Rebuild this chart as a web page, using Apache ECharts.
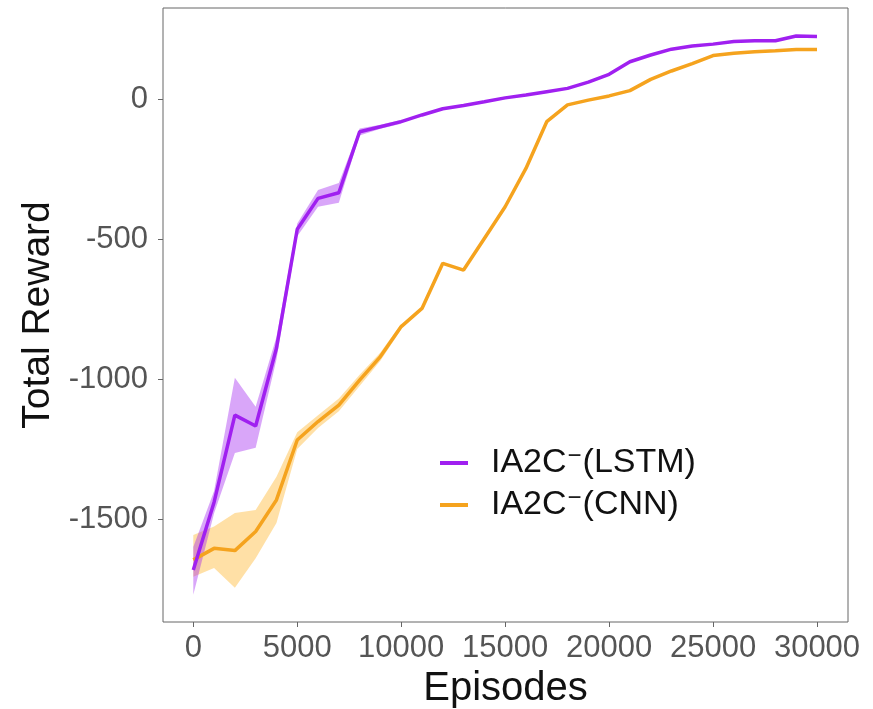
<!DOCTYPE html>
<html>
<head>
<meta charset="utf-8">
<script src="https://cdn.jsdelivr.net/npm/echarts@6/dist/echarts.min.js"></script>
<style>
  html, body { margin: 0; padding: 0; background: #fff; }
  #chart { width: 873px; height: 709px; }
</style>
</head>
<body>
<div id="chart"></div>
<script>
// episodes (x)
const episodes = [0, 1000, 2000, 3000, 4000, 5000, 6000, 7000, 8000, 9000, 10000,
  11000, 12000, 13000, 14000, 15000, 16000, 17000, 18000, 19000, 20000,
  21000, 22000, 23000, 24000, 25000, 26000, 27000, 28000, 29000, 30000]

// mean reward
const lstmMean = [-1682, -1440, -1129, -1168, -890, -465, -355, -335, -117, -99, -81,
  -57, -35, -23, -10, 4, 14, 26, 38, 60, 88,
  133, 157, 178, 189, 196, 205, 208, 208, 225, 223]
const cnnMean = [-1646, -1605, -1613, -1545, -1432, -1218, -1152, -1093, -1004, -920, -813,
  -748, -587, -611, -498, -385, -248, -81, -21, -4, 11,
  30, 70, 100, 126, 155, 163, 169, 172, 177, 177]

// spread bands (only the early part is wider than the line)
const bandEpisodes = [0, 1000, 2000, 3000, 4000, 5000, 6000, 7000, 8000, 9000, 10000]
const lstmLow = [-1771, -1480, -1264, -1246, -930, -490, -385, -371, -130, -106, -88]
const lstmHigh = [-1600, -1400, -996, -1099, -850, -445, -325, -300, -105, -92, -74]
const cnnLow = [-1706, -1675, -1746, -1640, -1514, -1250, -1175, -1115, -1025, -935, -823]
const cnnHigh = [-1557, -1527, -1479, -1468, -1349, -1190, -1130, -1070, -985, -905, -803]

// axis ticks
const xTicks = [0, 5000, 10000, 15000, 20000, 25000, 30000]
const yTicks = [-1500, -1000, -500, 0]

const purple = '#A020F0'
const orange = '#F5A31E'
const font = 'Liberation Sans'

const chart = echarts.init(document.getElementById('chart'))

const pairs = (xs, ys) => xs.map((x, i) => [x, ys[i]])

// ribbon drawn as one polygon: upper bound forward, lower bound back
const bandSeries = (id, low, high, color) => ({
  name: id + '-band',
  type: 'custom',
  silent: true,
  clip: true,
  z: 1,
  data: bandEpisodes.map((x, i) => [x, low[i], high[i]]),
  encode: { x: 0, y: [1, 2] },
  renderItem: (params, api) => {
    if (params.dataIndex !== 0) return
    const top = bandEpisodes.map((x, i) => api.coord([x, high[i]]))
    const bottom = bandEpisodes.map((x, i) => api.coord([x, low[i]])).reverse()
    return {
      type: 'polygon',
      shape: { points: top.concat(bottom) },
      style: { fill: color }
    }
  }
})

const legendText = {
  'IA2C-(LSTM)': '{b|IA2C}{s|−}{a|(LSTM)}',
  'IA2C-(CNN)': '{b|IA2C}{s|−}{a|(CNN)}'
}

const option = {
  animation: false,
  backgroundColor: '#fff',
  textStyle: { fontFamily: font },
  grid: {
    left: 163, right: 25, top: 8, bottom: 87,
    show: true, borderColor: '#666', borderWidth: 1,
    outerBoundsMode: 'none'
  },
  legend: {
    data: ['IA2C-(LSTM)', 'IA2C-(CNN)'],
    orient: 'vertical',
    left: 435, top: 439,
    icon: 'rect',
    itemWidth: 28, itemHeight: 4,
    itemGap: 6,
    formatter: name => legendText[name],
    textStyle: {
      rich: {
        b: { fontSize: 34, color: '#111', fontFamily: font, lineHeight: 38, padding: [0, 0, 0, 18] },
        a: { fontSize: 34, color: '#111', fontFamily: font, lineHeight: 38 },
        s: { fontSize: 24, color: '#111', fontFamily: font, lineHeight: 22, verticalAlign: 'top', padding: [0, 1, 0, 1] }
      }
    }
  },
  xAxis: {
    type: 'value',
    min: -1457, max: 31491,
    name: 'Episodes',
    nameLocation: 'middle',
    nameGap: 40,
    nameTextStyle: { fontSize: 40, color: '#111', fontFamily: font },
    axisLine: { show: false, onZero: false },
    axisTick: { show: true, length: 5, lineStyle: { color: '#666' }, customValues: xTicks },
    axisLabel: { fontSize: 31, color: '#555', margin: 11, customValues: xTicks, formatter: v => String(v) },
    splitLine: { show: false }
  },
  yAxis: {
    type: 'value',
    min: -1868, max: 325,
    name: 'Total Reward',
    nameLocation: 'middle',
    nameGap: 93,
    nameTextStyle: { fontSize: 39, color: '#111', fontFamily: font },
    axisLine: { show: false, onZero: false },
    axisTick: { show: true, length: 5, lineStyle: { color: '#666' }, customValues: yTicks },
    axisLabel: { fontSize: 31, color: '#555', margin: 15, customValues: yTicks, formatter: v => String(v) },
    splitLine: { show: false }
  },
  series: [
    bandSeries('cnn', cnnLow, cnnHigh, 'rgba(255,165,0,0.35)'),
    bandSeries('lstm', lstmLow, lstmHigh, 'rgba(160,32,240,0.4)'),
    {
      name: 'IA2C-(CNN)',
      type: 'line',
      data: pairs(episodes, cnnMean),
      symbol: 'none',
      color: orange,
      lineStyle: { width: 3.5, color: orange },
      z: 3
    },
    {
      name: 'IA2C-(LSTM)',
      type: 'line',
      data: pairs(episodes, lstmMean),
      symbol: 'none',
      color: purple,
      lineStyle: { width: 3.5, color: purple },
      z: 4
    }
  ]
}

chart.setOption(option)
</script>
</body>
</html>
